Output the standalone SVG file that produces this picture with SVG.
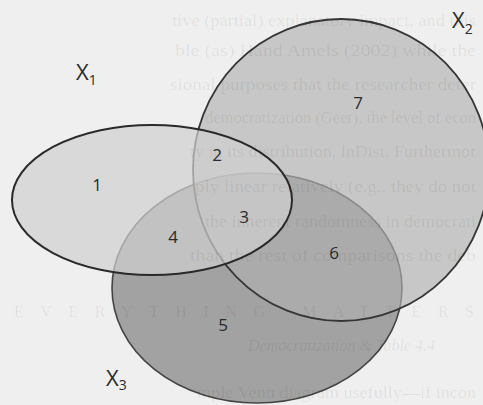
<svg xmlns="http://www.w3.org/2000/svg" width="483" height="405" viewBox="0 0 483 405">
  <style>
    .page { fill: #efefef; }
    .bleed { font-family: "Liberation Serif", serif; font-size: 16px; fill: #000; fill-opacity: 0.07; }
    .set { stroke-linejoin: round; }
    .num { font-family: "Open Sans", "Liberation Sans", sans-serif; font-size: 17px; fill: #2a2a2a; text-anchor: middle; }
    .setname { font-family: "Open Sans", "Liberation Sans", sans-serif; font-size: 22px; fill: #2a2a2a; }
    .sub { font-size: 14px; }
  </style>

  <rect class="page" x="0" y="0" width="483" height="405"/>

  <!-- sets, drawn bottom to top: X3, X2, X1 -->
  <g id="set-x3">
    <ellipse class="set" cx="257" cy="288" rx="145" ry="115" fill="#a2a2a2" stroke="#444" stroke-width="1.6"/>
  </g>
  <g id="set-x2">
    <ellipse class="set" cx="341" cy="170" rx="148" ry="151" fill="#b0b0b0" fill-opacity="0.64" stroke="#363636" stroke-width="1.8"/>
  </g>
  <g id="set-x1">
    <ellipse class="set" cx="152" cy="200" rx="140" ry="75" fill="#d0d0d0" fill-opacity="0.7" stroke="#2a2a2a" stroke-width="2"/>
  </g>

  <!-- faint running text of the page -->
  <g id="page-text">
    <text class="bleed" x="172" y="26" textLength="304" lengthAdjust="spacingAndGlyphs">tive (partial) explanatory impact, and this</text>
    <text class="bleed" x="175" y="56" textLength="301" lengthAdjust="spacingAndGlyphs">ble (as) Hand Amels (2002) while the</text>
    <text class="bleed" x="170" y="90" textLength="306" lengthAdjust="spacingAndGlyphs">sional purposes that the researcher deter</text>
    <text class="bleed" x="205" y="123" textLength="271" lengthAdjust="spacingAndGlyphs">democratization (Geer), the level of econ</text>
    <text class="bleed" x="190" y="157" textLength="286" lengthAdjust="spacingAndGlyphs">ty in its distribution, lnDist. Furthermor</text>
    <text class="bleed" x="195" y="192" textLength="281" lengthAdjust="spacingAndGlyphs">ply linear relatively (e.g., they do not</text>
    <text class="bleed" x="205" y="227" textLength="271" lengthAdjust="spacingAndGlyphs">the inherent randomness in democrati</text>
    <text class="bleed" x="190" y="261" textLength="286" lengthAdjust="spacingAndGlyphs">than the rest of comparisons the deb</text>
    <text class="bleed" x="14" y="317" font-size="26" textLength="460" lengthAdjust="spacing">EVERYTHING MATTERS</text>
    <text class="bleed" x="248" y="351" font-style="italic" font-size="14">Democratization &amp; Table 4.4</text>
    <text class="bleed" x="197" y="398" textLength="279" lengthAdjust="spacingAndGlyphs">mple Venn diagram usefully—if incon</text>
  </g>

  <!-- region numbers -->
  <g id="region-labels">
    <text class="num" x="97" y="191">1</text>
    <text class="num" x="217" y="161">2</text>
    <text class="num" x="244" y="223">3</text>
    <text class="num" x="173" y="243">4</text>
    <text class="num" x="223" y="331">5</text>
    <text class="num" x="334" y="259">6</text>
    <text class="num" x="358" y="109">7</text>
  </g>

  <!-- set names -->
  <g id="set-labels">
    <text class="setname" x="76" y="80">X<tspan class="sub" dy="5">1</tspan></text>
    <text class="setname" x="452" y="28">X<tspan class="sub" dy="6">2</tspan></text>
    <text class="setname" x="106" y="386">X<tspan class="sub" dy="4">3</tspan></text>
  </g>
</svg>
